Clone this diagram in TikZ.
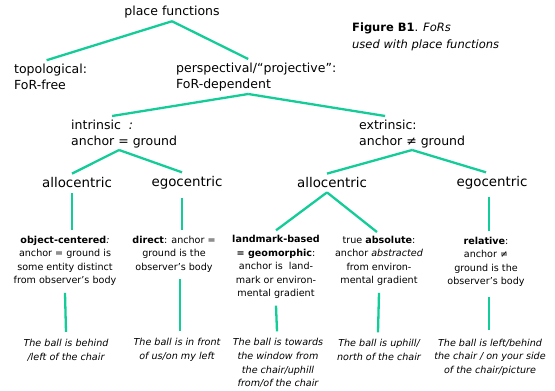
\documentclass[tikz,border=0pt]{standalone}
\usepackage{fontspec}
\setmainfont{DejaVu Sans}
\usepackage{xcolor}
\usepackage{tikz}

\definecolor{forgreen}{RGB}{20,204,152}

\begin{document}
\begin{tikzpicture}[
    x=1pt, y=-1pt,
    branch/.style={draw=forgreen, line width=2.3pt},
    level/.style={font=\fontsize{12.5}{15.5}\selectfont, inner sep=1pt, align=left},
    centric/.style={font=\fontsize{13.4}{16}\selectfont, inner sep=1pt},
    detail/.style={font=\fontsize{9.6}{13.4}\selectfont, inner sep=1pt, align=center},
    example/.style={font=\fontsize{9.6}{13.6}\selectfont\itshape, inner sep=1pt, align=center},
]

    \useasboundingbox (0,0) rectangle (555,391);

    % =============================================================
    % Top: place functions and the caption
    % =============================================================
    \node[level] (placef) at (172,12) {place functions};
    \node[anchor=west, align=left, inner sep=0pt,
        font=\fontsize{11.5}{17}\selectfont] (caption) at (352,37)
        {\textbf{Figure B1}. \textit{FoRs}\\\textit{used with place functions}};

    \node[level, anchor=west] (topo) at (13,77) {topological:\\FoR-free};
    \node[level, anchor=west] (persp) at (175,77)
        {perspectival/“projective”:\\FoR-dependent};

    \draw[branch] ([yshift=-2pt]placef.south) -- ([xshift=-4pt,yshift=3pt]topo.north);
    \draw[branch] ([yshift=-2pt]placef.south) -- ([xshift=-8pt,yshift=3pt]persp.north);

    % =============================================================
    % Frames of reference: intrinsic and extrinsic
    % =============================================================
    \node[level, anchor=west] (intr) at (70,134) {intrinsic\ \ \textit{:}\\anchor = ground};
    \node[level, anchor=west] (extr) at (358,134) {extrinsic:\\anchor ≠ ground};

    \draw[branch] ([xshift=-8pt,yshift=-2pt]persp.south) -- ([xshift=-12pt,yshift=3pt]intr.north);
    \draw[branch] ([xshift=-8pt,yshift=-2pt]persp.south) -- ([xshift=-27pt,yshift=3pt]extr.north);

    \node[centric] (alloL) at (77,183) {allocentric};
    \node[centric] (egoL) at (187,183) {egocentric};
    \node[centric] (alloR) at (332,183) {allocentric};
    \node[centric] (egoR) at (492,183) {egocentric};

    \draw[branch] ([xshift=-5pt,yshift=-1pt]intr.south) -- ([xshift=-5pt,yshift=3pt]alloL.north);
    \draw[branch] ([xshift=-5pt,yshift=-1pt]intr.south) -- ([xshift=-5pt,yshift=3pt]egoL.north);
    \draw[branch] ([yshift=-1pt]extr.south) -- ([xshift=-5pt,yshift=3pt]alloR.north);
    \draw[branch] ([yshift=-1pt]extr.south) -- ([xshift=-6pt,yshift=3pt]egoR.north);

    % =============================================================
    % Kinds of anchor
    % =============================================================
    \node[detail] (objc) at (65,261)
        {\textbf{object-centered}\textit{:}\\anchor = ground is\\some entity distinct\\from observer’s body};
    \node[detail] (direct) at (174,254)
        {\textbf{direct}: anchor =\\ground is the\\observer’s body};
    \node[detail] (landm) at (276,267)
        {\textbf{landmark-based}\\\textbf{= geomorphic}:\\anchor is\ \ land-\\mark or environ-\\mental gradient};
    \node[detail] (absol) at (379,261)
        {true \textbf{absolute}:\\anchor \textit{abstracted}\\from environ-\\mental gradient};
    \node[detail] (relat) at (486,262)
        {\textbf{relative}:\\anchor ≠\\ground is the\\observer’s body};

    \draw[branch] ([xshift=-5pt,yshift=-4pt]alloL.south) -- ([xshift=7pt,yshift=5pt]objc.north);
    \draw[branch] ([xshift=-5pt,yshift=-7pt]egoL.south) -- ([xshift=8pt,yshift=5pt]direct.north);
    \draw[branch] ([xshift=-5pt,yshift=-3pt]alloR.south) -- ([yshift=4pt]landm.north);
    \draw[branch] ([xshift=-5pt,yshift=-3pt]alloR.south) -- ([xshift=-2pt,yshift=3pt]absol.north);
    \draw[branch] ([xshift=-3pt,yshift=-6pt]egoR.south) -- ([xshift=3pt,yshift=5pt]relat.north);

    % =============================================================
    % Bottom: one example sentence for each kind
    % =============================================================
    \node[example] (ex1) at (66,350) {The ball is behind\\/left of the chair};
    \node[example] (ex2) at (177,350) {The ball is in front\\of us/on my left};
    \node[example] (ex3) at (278,363)
        {The ball is towards\\the window from\\the chair/uphill\\from/of the chair};
    \node[example] (ex4) at (379,350) {The ball is uphill/\\north of the chair};
    \node[example] (ex5) at (490,357)
        {The ball is left/behind\\the chair / on your side\\of the chair/picture};

    \draw[branch] ([yshift=-6pt]objc.south) -- ([yshift=6pt]ex1.north);
    \draw[branch] ([xshift=6pt,yshift=-6pt]direct.south) -- ([xshift=3pt,yshift=6pt]ex2.north);
    \draw[branch] ([yshift=-6pt]landm.south) -- ([xshift=-1pt,yshift=6pt]ex3.north);
    \draw[branch] ([yshift=-6pt]absol.south) -- ([xshift=-1pt,yshift=6pt]ex4.north);
    \draw[branch] ([xshift=3pt,yshift=-9pt]relat.south) -- ([xshift=-1pt,yshift=8pt]ex5.north);

\end{tikzpicture}
\end{document}
